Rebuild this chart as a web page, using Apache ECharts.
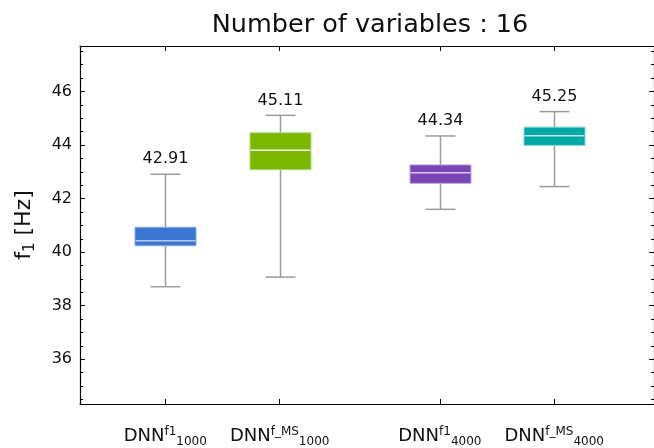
<!DOCTYPE html>
<html>
<head>
<meta charset="utf-8">
<script src="https://cdn.jsdelivr.net/npm/echarts@6/dist/echarts.min.js"></script>
<style>html,body{margin:0;padding:0;background:#fff}#c{width:654px;height:448px}</style>
</head>
<body>
<div id="c"></div>
<script>
// ---- data ----
const supText = ['f1', 'f_MS', 'f1', 'f_MS'];
const subText = ['1000', '1000', '4000', '4000'];
const positions = [1, 2, 3.4, 4.4];
const whiskerLow = [38.71, 39.07, 41.60, 42.45];
const q1 = [40.24, 43.08, 42.57, 43.99];
const median = [40.43, 43.81, 42.97, 44.35];
const q3 = [40.93, 44.46, 43.26, 44.67];
const whiskerHigh = [42.91, 45.11, 44.34, 45.25];
const yMajorTicks = [36, 38, 40, 42, 44, 46];
const yMinorTicks = [34.5, 35, 35.5, 36.5, 37, 37.5, 38.5, 39, 39.5, 40.5, 41, 41.5, 42.5, 43, 43.5, 44.5, 45, 45.5, 46.5, 47, 47.5];

// ---- styles ----
const fills = ['#3b76d0', '#7ab800', '#7b45b6', '#00a7a7'];
const edges = ['#86a9e4', '#b3da80', '#c0a3e4', '#7fd3d3'];
const medians = ['#b3c9f0', '#f4faea', '#d9c8f0', '#bfe8e8'];
const FONT = 'DejaVu Sans';
const X_MIN = 0.255, X_MAX = 5.272, Y_MIN = 34.33, Y_MAX = 47.70;

const seriesData = positions.map((p, i) => [p, whiskerLow[i], q1[i], median[i], q3[i], whiskerHigh[i]]);

const chart = echarts.init(document.getElementById('c'), null, {renderer: 'canvas'});

function renderBox(params, api) {
  const i = params.dataIndex;
  const x = api.value(0);
  const lo = api.coord([x, api.value(1)]);
  const b1 = api.coord([x, api.value(2)]);
  const md = api.coord([x, api.value(3)]);
  const b3 = api.coord([x, api.value(4)]);
  const hi = api.coord([x, api.value(5)]);
  const cx = Math.round(lo[0]) + 0.5;
  const bw = 61, cw = 30;
  const wStyle = {stroke: '#9c9c9c', lineWidth: 1.5};
  return {
    type: 'group',
    children: [
      {type: 'line', shape: {x1: cx, y1: hi[1], x2: cx, y2: b3[1]}, style: wStyle},
      {type: 'line', shape: {x1: cx, y1: b1[1], x2: cx, y2: lo[1]}, style: wStyle},
      {type: 'line', shape: {x1: cx - cw / 2, y1: hi[1], x2: cx + cw / 2, y2: hi[1]}, style: wStyle},
      {type: 'line', shape: {x1: cx - cw / 2, y1: lo[1], x2: cx + cw / 2, y2: lo[1]}, style: wStyle},
      {type: 'rect', shape: {x: cx - bw / 2, y: b3[1], width: bw, height: b1[1] - b3[1]},
        style: {fill: fills[i], stroke: edges[i], lineWidth: 1}},
      {type: 'line', shape: {x1: cx - bw / 2 + 0.5, y1: md[1], x2: cx + bw / 2 - 0.5, y2: md[1]},
        style: {stroke: medians[i], lineWidth: 1.5}},
      {type: 'text', x: cx, y: hi[1] - 7,
        style: {text: api.value(5).toFixed(2), align: 'center', verticalAlign: 'bottom',
          fontFamily: FONT, fontSize: 16, fill: '#111'}}
    ]
  };
}

const axisLineStyle = {color: '#000', width: 1.2};

const option = {
  backgroundColor: '#fff',
  animation: false,
  title: {
    text: 'Number of variables : 16',
    left: 365, top: 7, textAlign: 'center',
    textStyle: {fontFamily: FONT, fontSize: 25.5, fontWeight: 'normal', color: '#111'}
  },
  grid: {left: 80, top: 46, right: -3, bottom: 44, containLabel: false},
  xAxis: [
    {
      type: 'value', position: 'bottom', min: X_MIN, max: X_MAX,
      axisLine: {show: true, onZero: false, lineStyle: axisLineStyle},
      splitLine: {show: false},
      axisTick: {show: true, inside: true, length: 5, customValues: positions, lineStyle: {color: '#000'}},
      axisLabel: {
        show: true, customValues: positions, margin: 21,
        formatter: function (v) {
          const i = positions.indexOf(v);
          if (i < 0) return '';
          return '{b|DNN}{sup|' + supText[i] + '}{sub|' + subText[i] + '}';
        },
        rich: {
          b: {fontFamily: FONT, fontSize: 18, color: '#111'},
          sup: {fontFamily: FONT, fontSize: 12, color: '#111', padding: [0, 0, 10, 0]},
          sub: {fontFamily: FONT, fontSize: 12, color: '#111', padding: [11, 0, 0, 0]}
        }
      }
    },
    {
      type: 'value', position: 'top', min: X_MIN, max: X_MAX,
      axisLine: {show: true, onZero: false, lineStyle: axisLineStyle},
      splitLine: {show: false},
      axisTick: {show: true, inside: true, length: 5, customValues: positions, lineStyle: {color: '#000'}},
      axisLabel: {show: false}
    }
  ],
  yAxis: [
    {
      type: 'value', position: 'left', min: Y_MIN, max: Y_MAX,
      name: '{i|f}{s|1}{i| [Hz]}', nameLocation: 'middle', nameGap: 42, nameRotate: 90,
      nameTextStyle: {
        rich: {
          i: {fontFamily: FONT, fontSize: 22, color: '#111'},
          s: {fontFamily: FONT, fontSize: 15, color: '#111', padding: [12, 0, 0, 0]}
        }
      },
      axisLine: {show: true, onZero: false, lineStyle: axisLineStyle},
      splitLine: {show: false},
      axisTick: {show: true, inside: true, length: 5, customValues: yMajorTicks, lineStyle: {color: '#000'}},
      axisLabel: {show: true, customValues: yMajorTicks, margin: 8, fontFamily: FONT, fontSize: 16, color: '#111'}
    },
    {
      type: 'value', position: 'left', min: Y_MIN, max: Y_MAX,
      axisLine: {show: false}, splitLine: {show: false},
      axisTick: {show: true, inside: true, length: 3, customValues: yMinorTicks, lineStyle: {color: '#000'}},
      axisLabel: {show: false}
    },
    {
      type: 'value', position: 'right', min: Y_MIN, max: Y_MAX,
      axisLine: {show: true, onZero: false, lineStyle: axisLineStyle}, splitLine: {show: false},
      axisTick: {show: true, inside: true, length: 5, customValues: yMajorTicks, lineStyle: {color: '#000'}},
      axisLabel: {show: false}
    },
    {
      type: 'value', position: 'right', min: Y_MIN, max: Y_MAX,
      axisLine: {show: false}, splitLine: {show: false},
      axisTick: {show: true, inside: true, length: 3, customValues: yMinorTicks, lineStyle: {color: '#000'}},
      axisLabel: {show: false}
    }
  ],
  series: [{
    type: 'custom',
    xAxisIndex: 0, yAxisIndex: 0,
    renderItem: renderBox,
    data: seriesData,
    clip: false
  }]
};
chart.setOption(option);
</script>
</body>
</html>
